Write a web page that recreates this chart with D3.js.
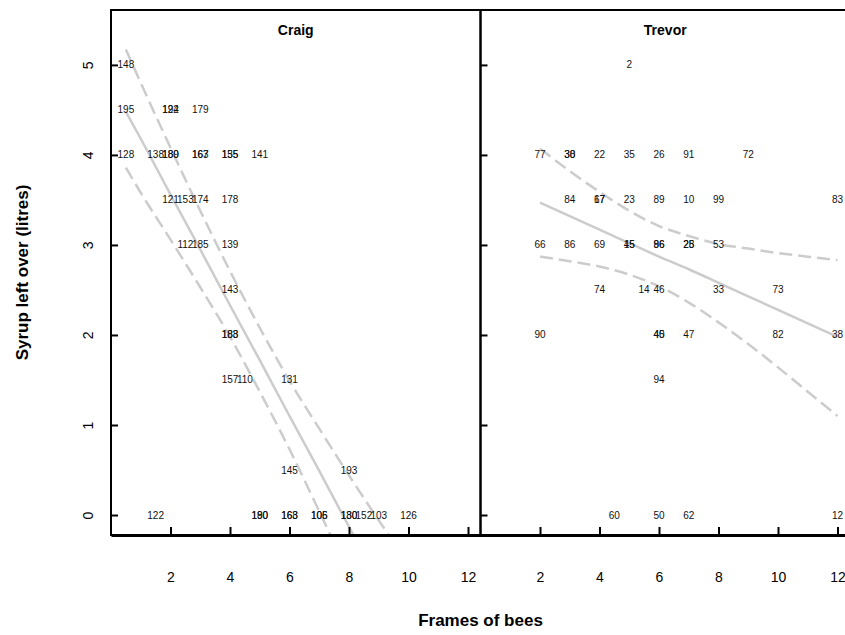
<!DOCTYPE html>
<meta charset="utf-8">
<style>
body { margin: 0; background: #fff; }
text { font-family: "Liberation Sans", Arial, sans-serif; }
.lab { font-size: 10px; fill: #111; }
.tick text { font-size: 14px; fill: #000; }
</style>
<body>
<svg width="845" height="635"></svg>
</body>
<script src="https://d3js.org/d3.v7.min.js"></script>
<script>

// panels
var groups = ["Craig", "Trevor"];

// point labels: [frames, syrup, id] per panel
var craigPts = [
  [0.5, 5, "148"], [0.5, 4.5, "195"], [2, 4.5, "192"], [2, 4.5, "124"], [3, 4.5, "179"],
  [0.5, 4, "128"], [1.5, 4, "138"], [2, 4, "189"], [2, 4, "180"], [3, 4, "167"], [3, 4, "163"],
  [4, 4, "155"], [4, 4, "135"], [5, 4, "141"],
  [2, 3.5, "121"], [2.5, 3.5, "153"], [3, 3.5, "174"], [4, 3.5, "178"],
  [2.5, 3, "112"], [3, 3, "185"], [4, 3, "139"],
  [4, 2.5, "143"],
  [4, 2, "188"], [4, 2, "183"],
  [4, 1.5, "157"], [4.5, 1.5, "110"], [6, 1.5, "131"],
  [6, 0.5, "145"], [8, 0.5, "193"],
  [1.5, 0, "122"], [5, 0, "190"], [5, 0, "180"], [6, 0, "168"], [6, 0, "163"],
  [7, 0, "105"], [7, 0, "106"], [8, 0, "130"], [8, 0, "180"], [8.5, 0, "152"], [9, 0, "103"], [10, 0, "126"]
];
var trevorPts = [
  [5, 5, "2"],
  [2, 4, "77"], [3, 4, "38"], [3, 4, "30"], [4, 4, "22"], [5, 4, "35"], [6, 4, "26"], [7, 4, "91"], [9, 4, "72"],
  [3, 3.5, "84"], [4, 3.5, "17"], [4, 3.5, "67"], [5, 3.5, "23"], [6, 3.5, "89"], [7, 3.5, "10"], [8, 3.5, "99"], [12, 3.5, "83"],
  [2, 3, "66"], [3, 3, "86"], [4, 3, "69"], [5, 3, "45"], [5, 3, "15"], [6, 3, "96"], [6, 3, "86"],
  [7, 3, "28"], [7, 3, "25"], [8, 3, "53"],
  [4, 2.5, "74"], [5.5, 2.5, "14"], [6, 2.5, "46"], [8, 2.5, "33"], [10, 2.5, "73"],
  [2, 2, "90"], [6, 2, "40"], [6, 2, "45"], [7, 2, "47"], [10, 2, "82"], [12, 2, "38"],
  [6, 1.5, "94"],
  [4.5, 0, "60"], [6, 0, "50"], [7, 0, "62"], [12, 0, "12"]
];

// fitted line and band
var craigX   = [0.5, 1, 2, 3, 4, 5, 6, 7, 8, 9, 10];
var craigFit = [4.48, 4.18, 3.56, 2.95, 2.33, 1.72, 1.10, 0.49, -0.13, -0.75, -1.36];
var craigUp  = [5.17, 4.80, 4.08, 3.38, 2.71, 2.08, 1.49, 0.96, 0.44, -0.06, -0.54];
var craigLo  = [3.86, 3.58, 3.06, 2.53, 1.98, 1.37, 0.73, 0.04, -0.66, -1.38, -2.11];

var trevorX   = [2, 3, 4, 5, 6, 7, 8, 9, 10, 11, 12];
var trevorFit = [3.47, 3.32, 3.17, 3.02, 2.87, 2.73, 2.58, 2.43, 2.28, 2.13, 1.98];
var trevorUp  = [4.07, 3.82, 3.59, 3.38, 3.21, 3.10, 3.01, 2.96, 2.91, 2.87, 2.83];
var trevorLo  = [2.87, 2.82, 2.76, 2.67, 2.54, 2.36, 2.14, 1.90, 1.64, 1.37, 1.10];

var xTicks = [2, 4, 6, 8, 10, 12];
var yTicks = [0, 1, 2, 3, 4, 5];

var svg = d3.select("svg"),
    top0 = 10, bottom0 = 535,
    left0 = 111, pw = 369.5;

var y = d3.scaleLinear().domain([-0.222, 5.61]).range([bottom0, top0]);

var panels = [
  {name: groups[0], pts: craigPts, xs: craigX, fit: craigFit, up: craigUp, lo: craigLo},
  {name: groups[1], pts: trevorPts, xs: trevorX, fit: trevorFit, up: trevorUp, lo: trevorLo}
];

panels.forEach(function(p, i) {
  var x0 = left0 + i * pw;
  var x = d3.scaleLinear().domain([0, 12.42]).range([0, pw]);
  var g = svg.append("g").attr("transform", "translate(" + x0 + ",0)");

  g.append("clipPath").attr("id", "clip" + i)
    .append("rect").attr("x", 0).attr("y", top0).attr("width", pw).attr("height", bottom0 - top0);

  var line = d3.line()
      .x(function(d) { return x(d[0]); })
      .y(function(d) { return y(d[1]); })
      .curve(d3.curveMonotoneX);

  var lines = g.append("g").attr("clip-path", "url(#clip" + i + ")");
  [["fit", null], ["up", "13,6"], ["lo", "13,6"]].forEach(function(s) {
    lines.append("path")
      .datum(p.xs.map(function(v, k) { return [v, p[s[0]][k]]; }))
      .attr("d", line)
      .attr("fill", "none")
      .attr("stroke", "#cccccc")
      .attr("stroke-width", 2.5)
      .attr("stroke-dasharray", s[1]);
  });

  g.selectAll(".lab")
    .data(p.pts)
    .enter().append("text")
      .attr("class", "lab")
      .attr("x", function(d) { return x(d[0]); })
      .attr("y", function(d) { return y(d[1]); })
      .attr("dy", "0.35em")
      .attr("text-anchor", "middle")
      .text(function(d) { return d[2]; });

  // panel box
  g.append("rect")
    .attr("x", 0).attr("y", top0).attr("width", pw).attr("height", bottom0 - top0)
    .attr("fill", "none").attr("stroke", "#000").attr("stroke-width", 2);

  g.append("text")
    .attr("x", pw / 2).attr("y", 35)
    .attr("text-anchor", "middle")
    .style("font-size", "14px").style("font-weight", "bold")
    .text(p.name);

  // bottom axis, ticks pointing inward
  var xa = g.append("g")
      .attr("transform", "translate(0," + bottom0 + ")")
      .call(d3.axisBottom(x).tickValues(xTicks).tickSizeInner(-8).tickSizeOuter(0).tickPadding(37));
  xa.select(".domain").attr("stroke-width", 3);
  xa.selectAll(".tick line").attr("stroke-width", 2);

  // left axis, ticks pointing inward
  var ya = g.append("g")
      .call(d3.axisLeft(y).tickValues(yTicks).tickFormat(d3.format("d")).tickSizeInner(-7).tickSizeOuter(0));
  ya.select(".domain").remove();
  ya.selectAll(".tick line").attr("stroke-width", 2);
  if (i === 0) {
    ya.selectAll(".tick text")
      .attr("x", 0).attr("dy", 0)
      .attr("text-anchor", "middle")
      .attr("transform", "translate(-18,0) rotate(-90)");
  } else {
    ya.selectAll(".tick text").remove();
  }
});

svg.append("text")
  .attr("transform", "translate(28," + ((top0 + bottom0) / 2) + ") rotate(-90)")
  .attr("text-anchor", "middle")
  .style("font-size", "17px").style("font-weight", "bold")
  .text("Syrup left over (litres)");

svg.append("text")
  .attr("x", left0 + pw).attr("y", 626)
  .attr("text-anchor", "middle")
  .style("font-size", "17px").style("font-weight", "bold")
  .text("Frames of bees");

</script>
